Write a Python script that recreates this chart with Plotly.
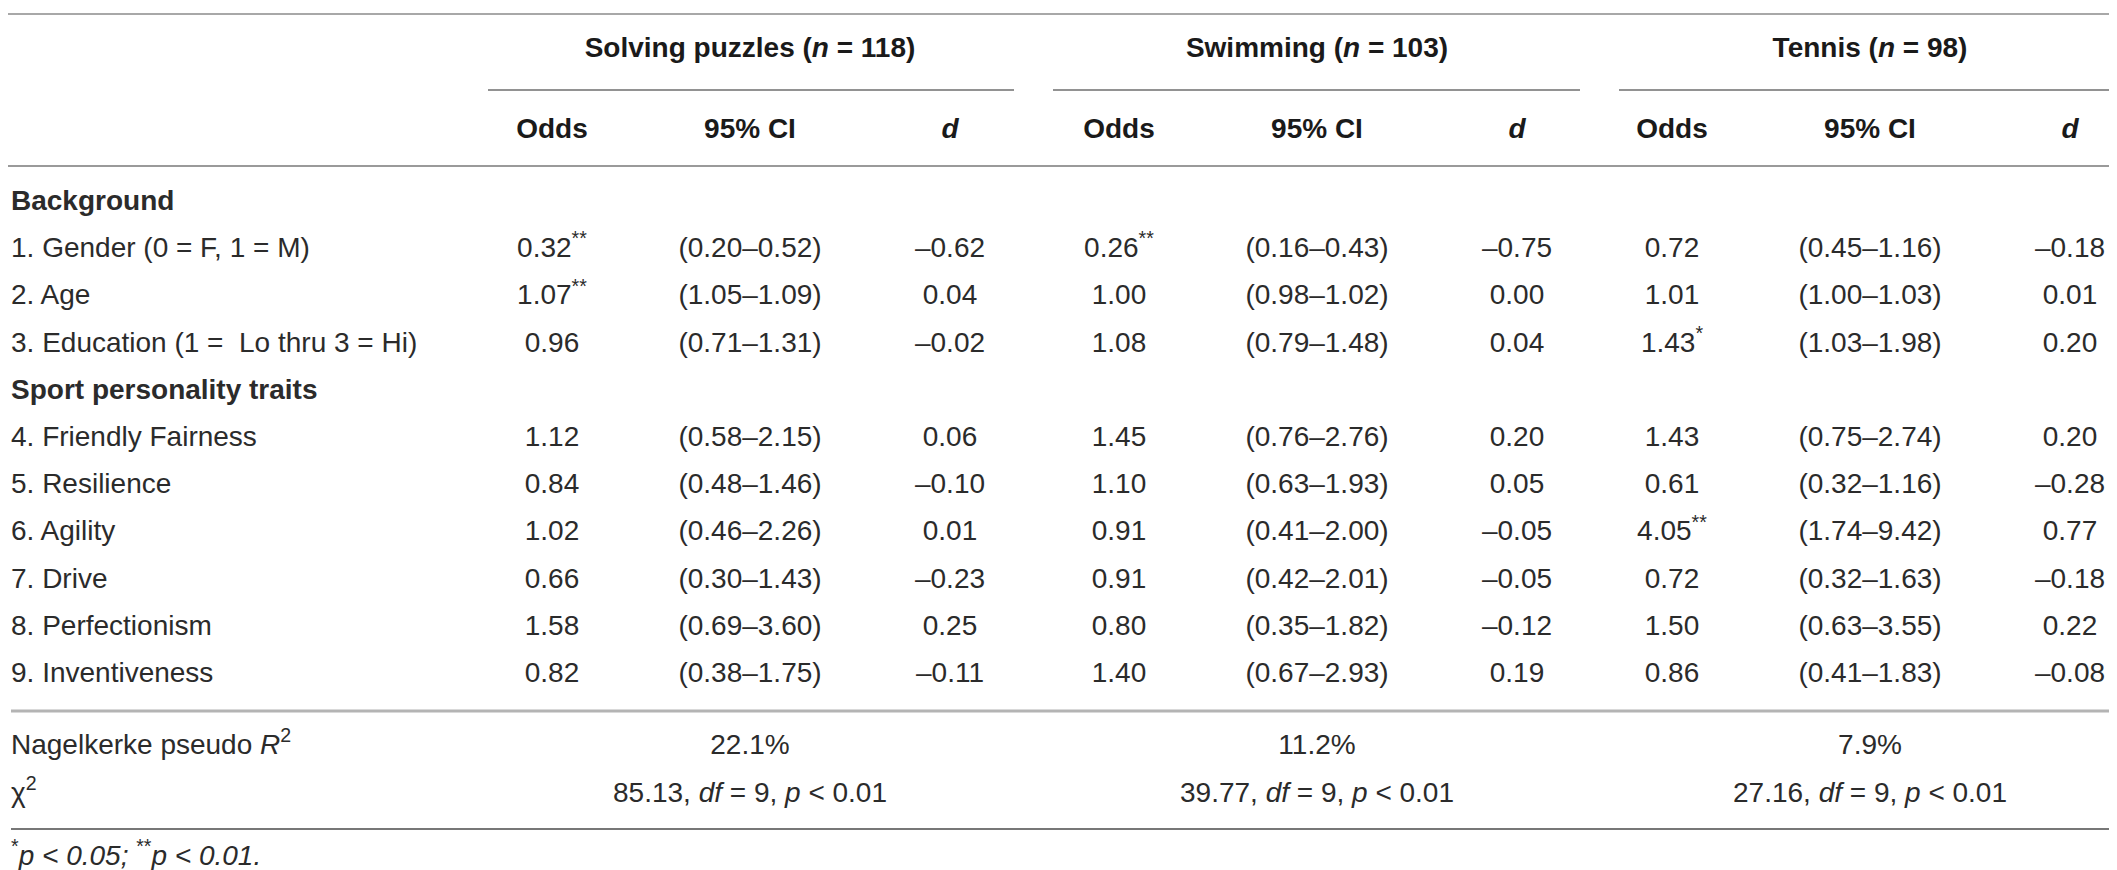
import plotly.graph_objects as go

# ---------------- data ----------------
groups = ["Solving puzzles", "Swimming", "Tennis"]
group_n = [118, 103, 98]

section_labels = ["Background", "Sport personality traits"]
background_labels = ["1. Gender (0 = F, 1 = M)", "2. Age", "3. Education (1 =  Lo thru 3 = Hi)"]
trait_labels = ["4. Friendly Fairness", "5. Resilience", "6. Agility", "7. Drive",
                "8. Perfectionism", "9. Inventiveness"]

puzzles_odds = [0.32, 1.07, 0.96, 1.12, 0.84, 1.02, 0.66, 1.58, 0.82]
puzzles_sig = ["**", "**", "", "", "", "", "", "", ""]
puzzles_ci_lo = [0.20, 1.05, 0.71, 0.58, 0.48, 0.46, 0.30, 0.69, 0.38]
puzzles_ci_hi = [0.52, 1.09, 1.31, 2.15, 1.46, 2.26, 1.43, 3.60, 1.75]
puzzles_d = [-0.62, 0.04, -0.02, 0.06, -0.10, 0.01, -0.23, 0.25, -0.11]

swimming_odds = [0.26, 1.00, 1.08, 1.45, 1.10, 0.91, 0.91, 0.80, 1.40]
swimming_sig = ["**", "", "", "", "", "", "", "", ""]
swimming_ci_lo = [0.16, 0.98, 0.79, 0.76, 0.63, 0.41, 0.42, 0.35, 0.67]
swimming_ci_hi = [0.43, 1.02, 1.48, 2.76, 1.93, 2.00, 2.01, 1.82, 2.93]
swimming_d = [-0.75, 0.00, 0.04, 0.20, 0.05, -0.05, -0.05, -0.12, 0.19]

tennis_odds = [0.72, 1.01, 1.43, 1.43, 0.61, 4.05, 0.72, 1.50, 0.86]
tennis_sig = ["", "", "*", "", "", "**", "", "", ""]
tennis_ci_lo = [0.45, 1.00, 1.03, 0.75, 0.32, 1.74, 0.32, 0.63, 0.41]
tennis_ci_hi = [1.16, 1.03, 1.98, 2.74, 1.16, 9.42, 1.63, 3.55, 1.83]
tennis_d = [-0.18, 0.01, 0.20, 0.20, -0.28, 0.77, -0.18, 0.22, -0.08]

nagelkerke_r2 = [22.1, 11.2, 7.9]
chi2 = [85.13, 39.77, 27.16]
chi2_df = [9, 9, 9]
chi2_p = ["0.01", "0.01", "0.01"]

column_heads = ["Odds", "95% CI", "d"]

# ---------------- layout constants ----------------
W, H = 2117, 870
FONT = "Liberation Sans, Arial, Helvetica, sans-serif"
FS = 28
TXT = "#2b2b2b"
HEAD = "#1a1a1a"

group_centers = [742, 1309, 1862]
col_offsets = [-198, 0, 200]
underline_spans = [(480, 1006), (1045, 1572), (1611, 2112)]
label_x = 3

y_group = 42
y_colhead = 123
y_first = 195
row_step = 47.2
y_r2 = 739
y_chi = 787
y_foot = 850


def fmt(v):
    s = f"{abs(v):.2f}"
    return ("\u2013" + s) if v < 0 else s


def odds_txt(vals, sigs):
    return [fmt(v) + (f"<sup>{s}</sup>" if s else "") for v, s in zip(vals, sigs)]


def ci_txt(lo, hi):
    return [f"({fmt(a)}\u2013{fmt(b)})" for a, b in zip(lo, hi)]


# body rows: section header, 3 background rows, section header, 6 trait rows
body_labels = ([f"<b>{section_labels[0]}</b>"] + background_labels +
               [f"<b>{section_labels[1]}</b>"] + trait_labels)
body_y = [y_first + i * row_step for i in range(len(body_labels))]
value_rows = [i for i, lab in enumerate(body_labels) if not lab.startswith("<b>")]
value_y = [body_y[i] for i in value_rows]

fig = go.Figure()


def add_text(xs, ys, texts, pos="middle center", color=TXT):
    fig.add_trace(go.Scatter(
        x=xs, y=ys, text=texts, mode="text", textposition=pos,
        textfont=dict(family=FONT, size=FS, color=color),
        hoverinfo="skip", showlegend=False, cliponaxis=False))


# row labels
add_text([label_x] * len(body_labels), body_y,
         [lab for lab in body_labels], pos="middle right")
add_text([label_x, label_x],
         [y_r2, y_chi],
         ["Nagelkerke pseudo <i>R</i><sup>2</sup>", "\u03c7<sup>2</sup>"],
         pos="middle right")
add_text([label_x], [y_foot],
         ["<sup>*</sup><i>p</i> <i>&lt; 0.05; </i><sup>**</sup><i>p</i> <i>&lt; 0.01.</i>"],
         pos="middle right")

series = [
    (puzzles_odds, puzzles_sig, puzzles_ci_lo, puzzles_ci_hi, puzzles_d),
    (swimming_odds, swimming_sig, swimming_ci_lo, swimming_ci_hi, swimming_d),
    (tennis_odds, tennis_sig, tennis_ci_lo, tennis_ci_hi, tennis_d),
]

for g, (name, n, gc, (odds, sig, lo, hi, d)) in enumerate(
        zip(groups, group_n, group_centers, series)):
    # group header
    add_text([gc], [y_group], [f"<b>{name} (<i>n</i> = {n})</b>"], color=HEAD)
    # column headers
    for off, ch in zip(col_offsets, column_heads):
        t = f"<b><i>{ch}</i></b>" if ch == "d" else f"<b>{ch}</b>"
        add_text([gc + off], [y_colhead], [t], color=HEAD)
    # values
    add_text([gc + col_offsets[0]] * len(odds), value_y, odds_txt(odds, sig))
    add_text([gc + col_offsets[1]] * len(lo), value_y, ci_txt(lo, hi))
    add_text([gc + col_offsets[2]] * len(d), value_y, [fmt(v) for v in d])
    # model fit
    add_text([gc], [y_r2], [f"{nagelkerke_r2[g]:.1f}%"])
    add_text([gc], [y_chi],
             [f"{chi2[g]:.2f}, <i>df</i> = {chi2_df[g]}, <i>p</i> &lt; {chi2_p[g]}"])

# rules
def hline(x0, x1, y, color, width):
    fig.add_shape(type="line", xref="x", yref="y", x0=x0, x1=x1, y0=y, y1=y,
                  line=dict(color=color, width=width))


hline(0, 2112, 6, "#a8a8a8", 2)
for a, b in underline_spans:
    hline(a, b, 82, "#6e6e6e", 1.5)
hline(0, 2112, 158, "#9a9a9a", 2)
hline(3, 2112, 703, "#b4b4b4", 3)
hline(3, 2112, 821, "#777777", 2)

fig.update_layout(
    width=W, height=H,
    margin=dict(l=0, r=0, t=0, b=0),
    paper_bgcolor="white", plot_bgcolor="white",
    xaxis=dict(range=[0, W], visible=False, fixedrange=True),
    yaxis=dict(range=[H, 0], visible=False, fixedrange=True),
)

fig.write_html("out.html")
